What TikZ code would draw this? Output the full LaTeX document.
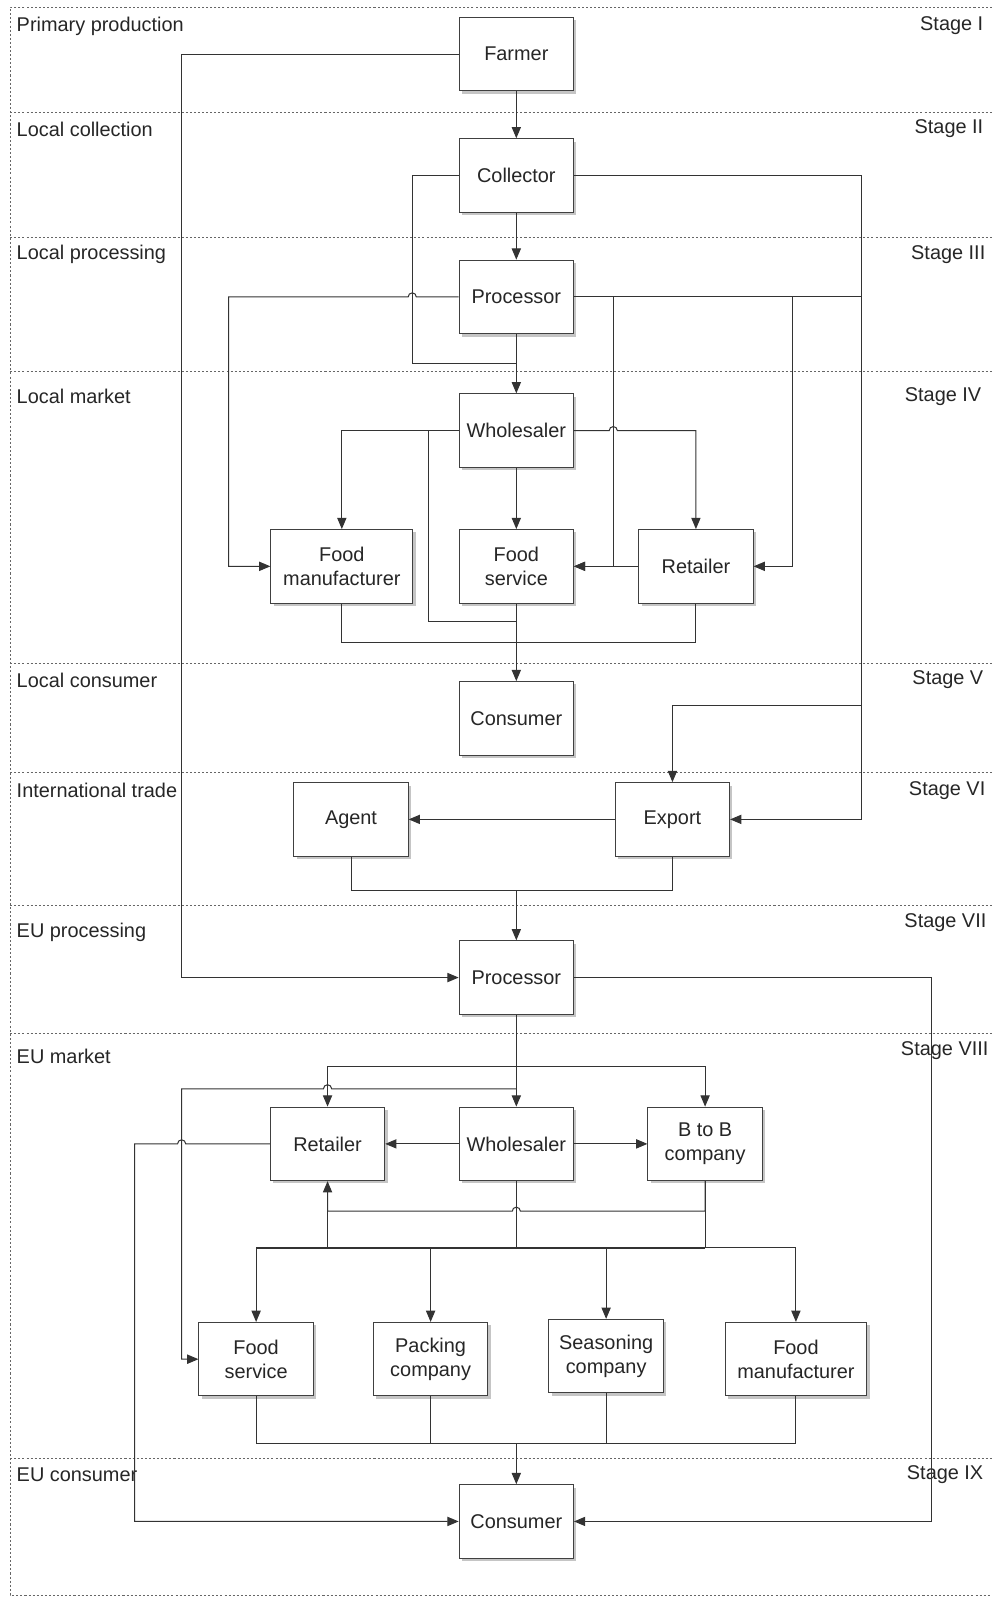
\documentclass[tikz,border=0pt]{standalone}
\usepackage{fontspec}
\setmainfont{Liberation Sans}
\usetikzlibrary{arrows.meta,shadows}
\begin{document}
\begin{tikzpicture}[x=0.5pt,y=-0.5pt,
  every node/.style={font=\fontsize{9.75}{11.8}\selectfont, text=black!85},
  box/.style={draw=black!75, line width=0.5pt, fill=white, minimum width=56pt, minimum height=36pt, inner sep=1pt, align=center, drop shadow={shadow xshift=1.4pt, shadow yshift=-1.4pt, fill=black!45}},
  wide/.style={minimum width=69.5pt},
  conn/.style={draw=black!80, line width=0.5pt},
  arr/.style={conn, -{Triangle[length=5.5pt,width=4.5pt]}},
  sep/.style={draw=black!60, line width=0.4pt, dash pattern=on 1pt off 1pt},
  rowlab/.style={anchor=west, inner sep=0pt},
  stagelab/.style={anchor=east, inner sep=0pt}]
\useasboundingbox (0,0) rectangle (972,1568);

% frame and separators
\draw[sep] (972,7) -- (10,7) -- (10,1563) -- (972,1563);
\foreach \yy in {110,233,364,650,757,887,1013,1429}
  \draw[sep] (10,\yy) -- (972,\yy);

% row labels
\node[rowlab] (l1) at (16,25.5) {Primary production};
\node[rowlab] (l2) at (16,126.5) {Local collection};
\node[rowlab] (l3) at (16,249.5) {Local processing};
\node[rowlab] (l4) at (16,388.5) {Local market};
\node[rowlab] (l5) at (16,666.5) {Local consumer};
\node[rowlab] (l6) at (16,774.5) {International trade};
\node[rowlab] (l7) at (16,913.5) {EU processing};
\node[rowlab] (l8) at (16,1035.5) {EU market};
\node[rowlab] (l9) at (16,1445.5) {EU consumer};

\node[stagelab] (s1) at (964,25.5) {Stage I};
\node[stagelab] (s2) at (964,126.5) {Stage II};
\node[stagelab] (s3) at (966,249.5) {Stage III};
\node[stagelab] (s4) at (962,388.5) {Stage IV};
\node[stagelab] (s5) at (964,666.5) {Stage V};
\node[stagelab] (s6) at (966,774.5) {Stage VI};
\node[stagelab] (s7) at (967,904.5) {Stage VII};
\node[stagelab] (s8) at (969,1029.5) {Stage VIII};
\node[stagelab] (s9) at (964,1445.5) {Stage IX};

% boxes
\node[box] (farmer) at (506,53) {Farmer};
\node[box] (collector) at (506,172) {Collector};
\node[box] (procL) at (506,291) {Processor};
\node[box] (wholeL) at (506,422) {Wholesaler};
\node[box,wide] (fmL) at (335,555) {Food\\manufacturer};
\node[box] (fsL) at (506,555) {Food\\service};
\node[box] (retL) at (682,555) {Retailer};
\node[box] (consL) at (506,704) {Consumer};
\node[box] (agent) at (344,803) {Agent};
\node[box] (export) at (659,803) {Export};
\node[box] (procE) at (506,958) {Processor};
\node[box] (retE) at (321,1121) {Retailer};
\node[box] (wholeE) at (506,1121) {Wholesaler};
\node[box] (btb) at (691,1121) {B to B\\company};
\node[box] (fsE) at (251,1332) {Food\\service};
\node[box] (pack) at (422,1332) {Packing\\company};
\node[box] (seas) at (594,1329) {Seasoning\\company};
\node[box,wide] (fmE) at (780,1332) {Food\\manufacturer};
\node[box] (consE) at (506,1491) {Consumer};

% local chain
\draw[arr] (farmer) -- (collector);
\draw[arr] (farmer.west) -| (178,958) -- (procE.west);
\draw[arr] (collector) -- (procL);
\draw[conn] (collector.west) -| (404,356) -- (506,356);
\draw[arr] (collector.east) -| (844,803) -- (export.east);
\draw[arr] (procL) -- (wholeL);
\draw[arr] (procL.east) -| (844,691) -| (export.north);
\draw[arr] (procL.east) -| (601,555) -- (fsL.east);
\draw[arr] (procL.east) -| (777,555) -- (retL.east);
\draw[arr] (procL.west) -- (408,291) arc[start angle=0,end angle=-180,radius=4] -- (224,291) |- (fmL.west);
\draw[arr] (wholeL) -- (fsL);
\draw[arr] (wholeL.west) -| (fmL.north);
\draw[arr] (wholeL.east) -- (597,422) arc[start angle=180,end angle=360,radius=4] -- (682,422) -- (retL.north);
\draw[conn] (wholeL.west) -| (420,609) -- (506,609);
\draw[arr] (retL.west) -- (fsL.east);
\draw[conn] (fmL.south) -- (335,630) -- (682,630) -- (retL.south);
\draw[arr] (fsL.south) -- (consL.north);

% international trade
\draw[arr] (export.west) -- (agent.east);
\draw[conn] (agent.south) -- (344,873) -- (659,873) -- (export.south);
\draw[arr] (506,873) -- (procE.north);

% EU
\draw[arr] (procE.east) -| (913,1491) -- (consE.east);
\draw[arr] (procE.south) -- (wholeE.north);
\draw[arr] (506,1045) -| (retE.north);
\draw[arr] (506,1045) -| (btb.north);
\draw[arr] (506,1067) -- (325,1067) arc[start angle=0,end angle=-180,radius=4] -- (178,1067) |- (fsE.west);
\draw[arr] (retE.west) -- (182,1121) arc[start angle=0,end angle=-180,radius=4] -- (132,1121) |- (consE.west);
\draw[arr] (wholeE.west) -- (retE.east);
\draw[arr] (wholeE.east) -- (btb.west);
\draw[conn] (wholeE.south) -- (506,1223);
\draw[arr] (btb.south) -- (691,1187) -- (510,1187) arc[start angle=0,end angle=-180,radius=4] -- (321,1187) -- (retE.south);
\draw[conn] (btb.south) -- (691,1223);
\draw[conn] (321,1223) -- (321,1187);
\draw[conn] (251,1223) -- (780,1223);
\draw[conn,line width=0.8pt] (251,1223) -- (691,1223);
\draw[arr] (251,1223) -- (fsE.north);
\draw[arr] (422,1223) -- (pack.north);
\draw[arr] (594,1223) -- (seas.north);
\draw[arr] (780,1223) -- (fmE.north);
\draw[conn] (fsE.south) -- (251,1415) -- (780,1415) -- (fmE.south);
\draw[conn] (pack.south) -- (422,1415);
\draw[conn] (seas.south) -- (594,1415);
\draw[arr] (506,1415) -- (consE.north);
\end{tikzpicture}
\end{document}
